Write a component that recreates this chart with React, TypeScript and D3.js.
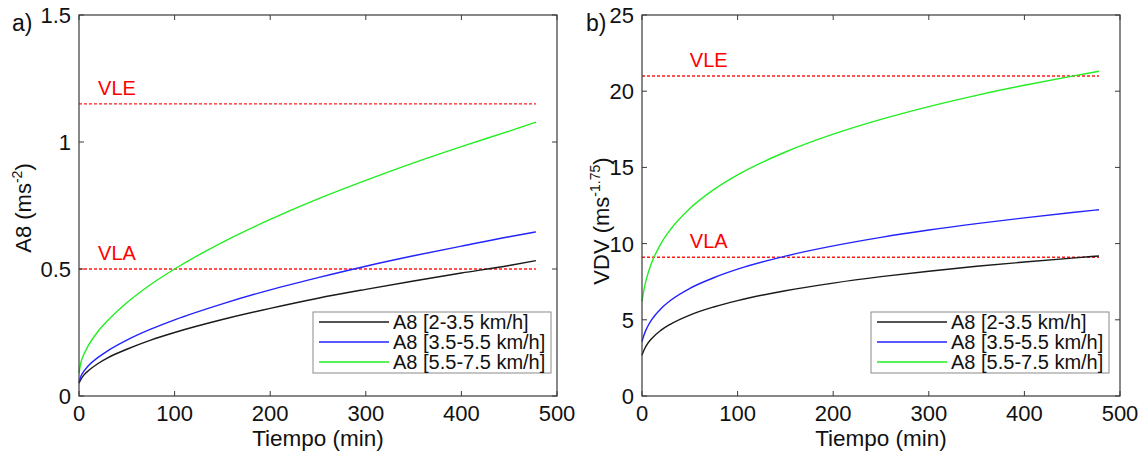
import React from "react";
import * as d3 from "d3";

// tiempo de exposicion [min]
const tiempo = [0, 2, 5, 10, 20, 30, 50, 75, 100, 150, 200, 250, 300, 350, 400, 450, 478];

// a) A8 [m/s^2]
const a8Lenta = [0.05, 0.065, 0.082, 0.1, 0.128, 0.15, 0.184, 0.22, 0.25, 0.301, 0.345, 0.385, 0.42, 0.453, 0.484, 0.514, 0.533];
const a8Media = [0.055, 0.078, 0.097, 0.12, 0.152, 0.178, 0.22, 0.263, 0.3, 0.363, 0.418, 0.466, 0.511, 0.552, 0.59, 0.627, 0.646];
const a8Rapida = [0.09, 0.132, 0.163, 0.2, 0.255, 0.297, 0.367, 0.439, 0.5, 0.605, 0.695, 0.776, 0.849, 0.918, 0.982, 1.043, 1.078];

// b) VDV [m/s^1.75]
const vdvLenta = [2.68, 3.0, 3.35, 3.76, 4.32, 4.72, 5.31, 5.84, 6.26, 6.91, 7.41, 7.83, 8.19, 8.51, 8.79, 9.05, 9.19];
const vdvMedia = [3.57, 3.99, 4.45, 5.0, 5.74, 6.28, 7.06, 7.76, 8.32, 9.18, 9.85, 10.41, 10.89, 11.31, 11.69, 12.04, 12.22];
const vdvRapida = [6.22, 6.97, 7.77, 8.72, 10.02, 10.94, 12.3, 13.54, 14.51, 16.01, 17.18, 18.15, 18.99, 19.73, 20.39, 20.99, 21.31];

// limites
const a8Limites = [{ name: "VLE", value: 1.15 }, { name: "VLA", value: 0.5 }];
const vdvLimites = [{ name: "VLE", value: 21 }, { name: "VLA", value: 9.1 }];

const xTicks = [0, 100, 200, 300, 400, 500];
const a8Ticks = [0, 0.5, 1, 1.5];
const vdvTicks = [0, 5, 10, 15, 20, 25];

const leyenda = ["A8 [2-3.5 km/h]", "A8 [3.5-5.5 km/h]", "A8 [5.5-7.5 km/h]"];
const colores = ["#1a1a1a", "#2323ff", "#22ee22"];

const FONT = "'Liberation Sans', Arial, sans-serif";
const AXIS = "#3a3a3a";

type PanelProps = {
  x0: number;
  x1: number;
  yMax: number;
  yTicks: number[];
  series: number[][];
  limites: { name: string; value: number }[];
  limLabelT: number;
  tag: string;
  tagX: number;
  ylabel: string;
  ysup: string;
  ylabelX: number;
  ylabelY: number;
  legendX: number;
};

const Panel = ({ x0, x1, yMax, yTicks, series, limites, limLabelT, tag, tagX, ylabel, ysup, ylabelX, ylabelY, legendX }: PanelProps) => {
  const top = 15;
  const bottom = 396;
  const x = d3.scaleLinear().domain([0, 500]).range([x0, x1]);
  const y = d3.scaleLinear().domain([0, yMax]).range([bottom, top]);
  const line = d3
    .line<number>()
    .x((_, i) => x(tiempo[i]))
    .y((d) => y(d))
    .curve(d3.curveMonotoneX);
  const tEnd = tiempo[tiempo.length - 1];
  const tk = 5;
  const fmt = (v: number) => String(v);
  //
  const lgTop = 312;
  const lgW = 238;
  const lgH = 61;
  return (
    <g fontFamily={FONT}>
      {/* limites */}
      {limites.map((l) => (
        <g key={l.name}>
          <line x1={x(0)} x2={x(tEnd)} y1={y(l.value)} y2={y(l.value)} stroke="#ff1a1a" strokeWidth={1.4} strokeDasharray="3,2" />
          <text x={x(limLabelT)} y={y(l.value) - 9} fill="#ff0000" fontSize={20}>
            {l.name}
          </text>
        </g>
      ))}
      {/* curvas */}
      {series.map((s, i) => (
        <path key={i} d={line(s) || ""} fill="none" stroke={colores[i]} strokeWidth={1.4} />
      ))}
      {/* caja */}
      <rect x={x0} y={top} width={x1 - x0} height={bottom - top} fill="none" stroke={AXIS} strokeWidth={1.2} />
      {xTicks.map((t) => (
        <g key={"x" + t}>
          <line x1={x(t)} x2={x(t)} y1={bottom} y2={bottom - tk} stroke={AXIS} />
          <line x1={x(t)} x2={x(t)} y1={top} y2={top + tk} stroke={AXIS} />
          <text x={x(t)} y={421} textAnchor="middle" fontSize={22} fill="#111">
            {fmt(t)}
          </text>
        </g>
      ))}
      {yTicks.map((t) => (
        <g key={"y" + t}>
          <line x1={x0} x2={x0 + tk} y1={y(t)} y2={y(t)} stroke={AXIS} />
          <line x1={x1} x2={x1 - tk} y1={y(t)} y2={y(t)} stroke={AXIS} />
          <text x={x0 - 8} y={y(t) + 8} textAnchor="end" fontSize={22} fill="#111">
            {fmt(t)}
          </text>
        </g>
      ))}
      <text x={(x0 + x1) / 2} y={446} textAnchor="middle" fontSize={22.5} fill="#111">
        Tiempo (min)
      </text>
      <text transform={`translate(${ylabelX},${ylabelY}) rotate(-90)`} textAnchor="middle" fontSize={22} fill="#111">
        {ylabel}
        <tspan fontSize={14} dy={-9}>
          {ysup}
        </tspan>
        <tspan dy={9}>)</tspan>
      </text>
      <text x={tagX} y={31} fontSize={23} fill="#111">
        {tag}
      </text>
      {/* leyenda */}
      <rect x={legendX} y={lgTop} width={lgW} height={lgH} fill="#fff" stroke="#8a8a8a" strokeWidth={1} />
      {leyenda.map((name, i) => (
        <g key={name}>
          <line x1={legendX + 6} x2={legendX + 76} y1={lgTop + 10 + i * 20} y2={lgTop + 10 + i * 20} stroke={colores[i]} strokeWidth={1.3} />
          <text x={legendX + 80} y={lgTop + 17 + i * 20} fontSize={20} fill="#111">
            {name}
          </text>
        </g>
      ))}
    </g>
  );
};

export default function App() {
  return (
    <svg width={1148} height={457} style={{ position: "absolute", left: 0, top: 0, background: "#fff" }}>
      <rect width={1148} height={457} fill="#fff" />
      <Panel
        x0={79}
        x1={557}
        yMax={1.5}
        yTicks={a8Ticks}
        series={[a8Lenta, a8Media, a8Rapida]}
        limites={a8Limites}
        limLabelT={20}
        tag="a)"
        tagX={12}
        ylabel="A8 (ms"
        ysup="-2"
        ylabelX={31}
        ylabelY={208}
        legendX={313}
      />
      <Panel
        x0={642}
        x1={1120}
        yMax={25}
        yTicks={vdvTicks}
        series={[vdvLenta, vdvMedia, vdvRapida]}
        limites={vdvLimites}
        limLabelT={50}
        tag="b)"
        tagX={586}
        ylabel="VDV (ms"
        ysup="-1.75"
        ylabelX={609}
        ylabelY={221}
        legendX={871}
      />
    </svg>
  );
}
